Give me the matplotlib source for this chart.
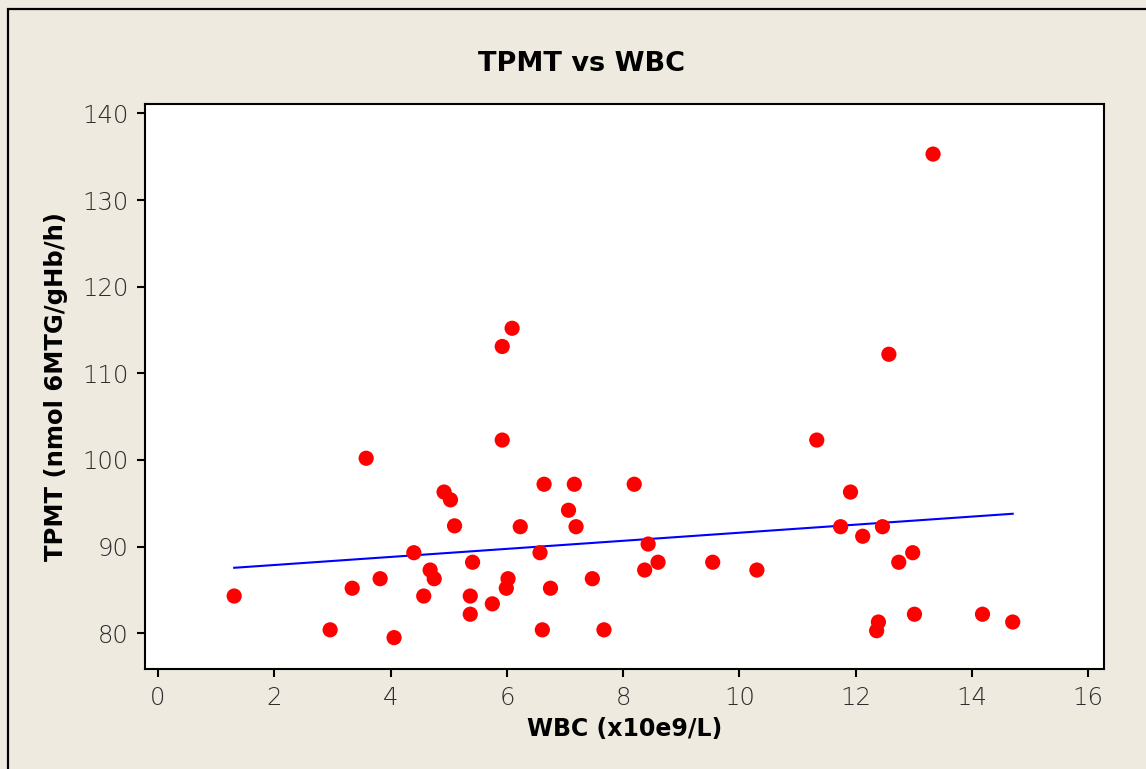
import matplotlib.pyplot as plt
import numpy as np
from matplotlib.patches import Rectangle

# WBC (x10e9/L) and TPMT (nmol 6MTG/gHb/h)
wbc = [1.31, 2.96, 3.34, 3.58, 3.82, 4.06, 4.40, 4.57, 4.68, 4.75,
       4.92, 5.03, 5.10, 5.37, 5.37, 5.41, 5.75, 5.92, 5.92, 5.99,
       6.02, 6.09, 6.23, 6.57, 6.61, 6.64, 6.75, 7.06, 7.16, 7.19,
       7.47, 7.67, 8.19, 8.37, 8.43, 8.60, 9.54, 10.30, 11.33, 11.74,
       11.91, 12.12, 12.36, 12.39, 12.46, 12.57, 12.74, 12.98, 13.01, 13.33,
       14.18, 14.70]
tpmt = [84.3, 80.4, 85.2, 100.2, 86.3, 79.5, 89.3, 84.3, 87.3, 86.3,
        96.3, 95.4, 92.4, 84.3, 82.2, 88.2, 83.4, 113.1, 102.3, 85.2,
        86.3, 115.2, 92.3, 89.3, 80.4, 97.2, 85.2, 94.2, 97.2, 92.3,
        86.3, 80.4, 97.2, 87.3, 90.3, 88.2, 88.2, 87.3, 102.3, 92.3,
        96.3, 91.2, 80.3, 81.3, 92.3, 112.2, 88.2, 89.3, 82.2, 135.3,
        82.2, 81.3]

# regression line as drawn in the reference (intercept, slope)
fit_intercept = 86.95
fit_slope = 0.4656

x_ticks = [0, 2, 4, 6, 8, 10, 12, 14, 16]
y_ticks = [80, 90, 100, 110, 120, 130, 140]

bg = '#eeeae0'

fig = plt.figure(figsize=(11.46, 7.69), dpi=100)
fig.patch.set_facecolor(bg)

# outer frame (runs off the right and bottom edges)
fig.patches.append(Rectangle((7.5 / 1146, -0.1), 1.2, 1 - 9 / 769 + 0.1,
                             transform=fig.transFigure, fill=False,
                             edgecolor='black', linewidth=1.6))

ax = fig.add_axes([145 / 1146, 1 - 669 / 769, (1104 - 145) / 1146, (669 - 104) / 769])
ax.set_facecolor('white')

ax.scatter(wbc, tpmt, s=120, color='red', edgecolors='none', zorder=3)

xl = np.array([min(wbc), max(wbc)])
ax.plot(xl, fit_intercept + fit_slope * xl, color='blue', linewidth=1.5, zorder=2)

ax.set_xlim(-0.224, 16.27)
ax.set_ylim(75.88, 141.08)
ax.set_xticks(x_ticks)
ax.set_yticks(y_ticks)
for s in ax.spines.values():
    s.set_linewidth(1.5)
ax.tick_params(direction='out', length=6, width=1.5, pad=6,
               labelsize=17.5, labelcolor='#2e2e2e')
for lab in ax.get_xticklabels() + ax.get_yticklabels():
    lab.set_fontweight('light')

ax.set_xlabel('WBC (x10e9/L)', fontsize=17, fontweight='bold', labelpad=5)
ax.set_ylabel('TPMT (nmol 6MTG/gHb/h)', fontsize=17.5, fontweight='bold', labelpad=10)
fig.text(582 / 1146, 1 - 64 / 769, 'TPMT vs WBC', ha='center', va='center',
         fontsize=19.5, fontweight='bold')

plt.savefig('out.png', dpi=100, facecolor=bg)
